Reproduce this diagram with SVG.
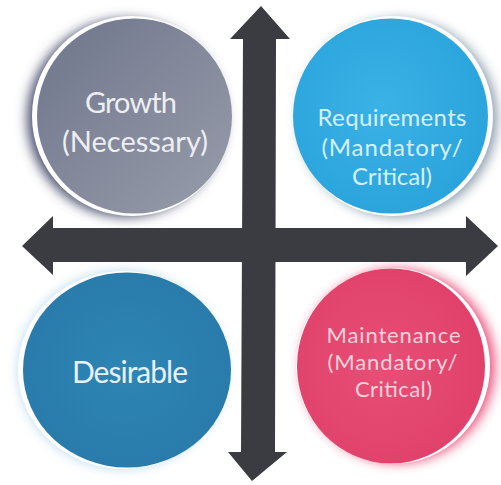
<svg xmlns="http://www.w3.org/2000/svg" width="501" height="485" viewBox="0 0 501 485">
  <defs>
    <filter id="blur" x="-30%" y="-30%" width="160%" height="160%">
      <feGaussianBlur stdDeviation="6"/>
    </filter>
    <linearGradient id="gGray" x1="0" y1="0" x2="1" y2="1">
      <stop offset="0" stop-color="#6f758b"/>
      <stop offset="1" stop-color="#989dab"/>
    </linearGradient>
    <radialGradient id="gBlue" cx="0.45" cy="0.45" r="0.6">
      <stop offset="0" stop-color="#3ab2e6"/>
      <stop offset="1" stop-color="#2aa3dc"/>
    </radialGradient>
    <radialGradient id="gDeep" cx="0.5" cy="0.5" r="0.6">
      <stop offset="0" stop-color="#2d86b5"/>
      <stop offset="1" stop-color="#2879a8"/>
    </radialGradient>
    <radialGradient id="gPink" cx="0.45" cy="0.5" r="0.6">
      <stop offset="0" stop-color="#e84e76"/>
      <stop offset="1" stop-color="#df4069"/>
    </radialGradient>
  </defs>
  <style>
    .rim { fill: #ffffff; }
    .lbl { font-family: Lato, "Liberation Sans", sans-serif; text-anchor: middle; }
    .arrow { fill: #3b3c42; }
  </style>
  <rect width="501" height="485" fill="#ffffff"/>

  <g id="growth">
    <circle cx="126" cy="118" r="99" fill="#4d5270" filter="url(#blur)"/>
    <circle class="rim" cx="132" cy="116" r="100"/>
    <circle cx="134.5" cy="116" r="97.5" fill="url(#gGray)"/>
    <text class="lbl" x="131" y="113" font-size="29" fill="#eceef2" textLength="92" lengthAdjust="spacing">Growth</text>
    <text class="lbl" x="135" y="152" font-size="29" fill="#eceef2" textLength="146" lengthAdjust="spacing">(Necessary)</text>
  </g>

  <g id="requirements">
    <circle cx="398" cy="118" r="99" fill="#6e8498" filter="url(#blur)" opacity="0.8"/>
    <circle class="rim" cx="393" cy="116" r="100"/>
    <circle cx="390.5" cy="116" r="97.5" fill="url(#gBlue)"/>
    <text class="lbl" x="392" y="126" font-size="24" fill="#d6f0fb" textLength="149" lengthAdjust="spacing">Requirements</text>
    <text class="lbl" x="392" y="156" font-size="24" fill="#d6f0fb" textLength="141" lengthAdjust="spacing">(Mandatory/</text>
    <text class="lbl" x="392" y="185" font-size="24" fill="#d6f0fb" textLength="80" lengthAdjust="spacing">Critical)</text>
  </g>

  <g id="desirable">
    <ellipse cx="122" cy="370" rx="103" ry="98" fill="#8cc4e4" filter="url(#blur)" opacity="0.7"/>
    <ellipse class="rim" cx="124" cy="370" rx="106" ry="99"/>
    <ellipse cx="127" cy="370" rx="104" ry="97.5" fill="url(#gDeep)"/>
    <text class="lbl" x="130" y="383" font-size="30" fill="#e6f2f8" textLength="116" lengthAdjust="spacing">Desirable</text>
  </g>

  <g id="maintenance">
    <circle cx="398" cy="366" r="97" fill="#e8396a" filter="url(#blur)" opacity="0.85"/>
    <ellipse class="rim" cx="393" cy="366" rx="97" ry="98"/>
    <ellipse cx="391" cy="366" rx="94" ry="97.5" fill="url(#gPink)"/>
    <text class="lbl" x="393.5" y="343" font-size="22" fill="#f7d3dc" textLength="134" lengthAdjust="spacing">Maintenance</text>
    <text class="lbl" x="392.5" y="370" font-size="22" fill="#f7d3dc" textLength="130" lengthAdjust="spacing">(Mandatory/</text>
    <text class="lbl" x="393.5" y="397" font-size="22" fill="#f7d3dc" textLength="77" lengthAdjust="spacing">Critical)</text>
  </g>

  <g id="connectors">
    <polygon class="arrow" points="261,6 290,39 276,39 275,452 287,452 252,481 228,452 241,452 243,39 230,39"/>
    <polygon class="arrow" points="22,246 53,216 53,228 466,228 466,216 498,246 466,276 466,262 53,262 53,275"/>
  </g>
</svg>
